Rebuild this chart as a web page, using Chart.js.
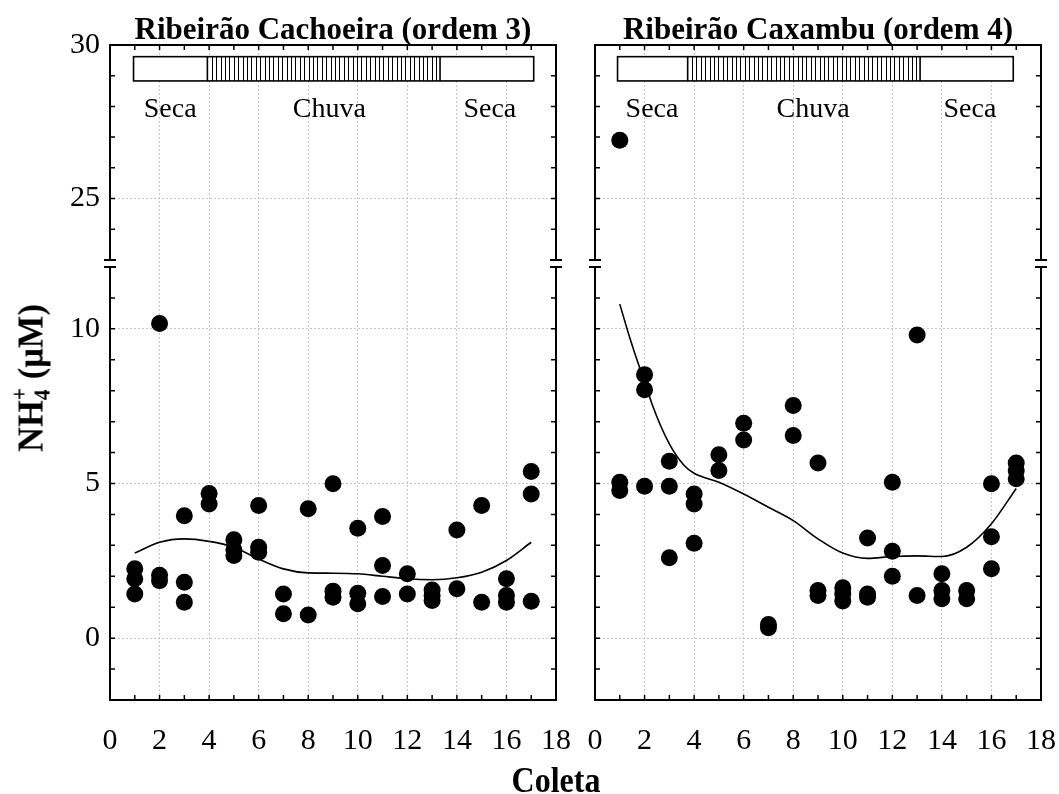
<!DOCTYPE html>
<html>
<head>
<meta charset="utf-8">
<script src="https://cdn.jsdelivr.net/npm/chart.js@4.4.1/dist/chart.umd.min.js"></script>
<style>
  body { margin: 0; background: #fff; width: 1059px; height: 794px; position: relative; overflow: hidden;
         font-family: 'Liberation Serif', 'Times New Roman', serif; color: #000; }
  .panel { position: absolute; top: 0; height: 794px; }
  #p1 { left: 0; width: 580px; }
  #p2 { left: 560px; width: 499px; }
  #ylab { position: absolute; left: 31px; top: 378px; transform: translate(-50%, -50%) rotate(-90deg) scale(1.08, 1.12);
          font-weight: bold; font-size: 32px; white-space: nowrap; }
  #ylab .ss { display: inline-block; font-size: 0.62em; line-height: 1.0; vertical-align: -0.3em; }
  #xlab { position: absolute; left: 556px; top: 780px; transform: translate(-50%, -50%) scale(1, 1.12);
          font-weight: bold; font-size: 32px; }
</style>
</head>
<body>
<div class="panel" id="p1"><canvas id="c1"></canvas></div>
<div class="panel" id="p2"><canvas id="c2"></canvas></div>
<div id="ylab">NH<span class="ss">+<br>4</span> (μM)</div>
<div id="xlab">Coleta</div>
<script>
const coleta = [1, 2, 3, 4, 5, 6, 7, 8, 9, 10, 11, 12, 13, 14, 15, 16, 17];

// NH4+ (uM) per coleta, several samples each
const cachoeiraNH4 = [
  [2.24, 1.92, 1.43],
  [10.17, 2.03, 1.86],
  [3.96, 1.81, 1.16],
  [4.68, 4.34],
  [3.18, 2.86, 2.67],
  [4.29, 2.94, 2.78],
  [1.43, 0.79],
  [4.18, 0.75],
  [4.99, 1.52, 1.32],
  [3.55, 1.45, 1.11],
  [3.93, 2.35, 1.35],
  [2.08, 1.43],
  [1.56, 1.38, 1.22],
  [3.50, 1.60],
  [4.29, 1.16],
  [1.92, 1.38, 1.16],
  [5.39, 4.66, 1.19]
];
const caxambuNH4 = [
  [26.9, 5.04, 4.77],
  [8.52, 8.03, 4.91],
  [5.72, 4.91, 2.60],
  [4.66, 4.34, 3.07],
  [5.93, 5.42],
  [6.95, 6.41],
  [0.44, 0.34],
  [7.52, 6.55],
  [5.66, 1.54, 1.38],
  [1.63, 1.43, 1.20],
  [3.24, 1.43, 1.32],
  [5.04, 2.81, 2.00],
  [9.80, 1.38],
  [2.08, 1.54, 1.27],
  [1.54, 1.27],
  [4.99, 3.28, 2.24],
  [5.66, 5.42, 5.15]
];

// smoothed trend lines
const cachoeiraTrendX = coleta;
const cachoeiraTrendY = [2.75, 3.10, 3.21, 3.13, 2.94, 2.56, 2.24, 2.11, 2.10, 2.08, 2.00, 1.92, 1.89, 1.95, 2.13, 2.51, 3.10];
const caxambuTrendX = [1, 1.4, 1.8, 2, 2.3, 3, 3.6, 4, 5, 6, 7, 8, 9, 10, 11, 12, 13, 14, 15, 16, 17];
const caxambuTrendY = [10.80, 9.72, 8.75, 8.32, 7.57, 6.28, 5.58, 5.33, 5.04, 4.66, 4.23, 3.80, 3.21, 2.75, 2.58, 2.64, 2.66, 2.64, 2.94, 3.70, 4.84];

const xTicks = [0, 2, 4, 6, 8, 10, 12, 14, 16, 18];
const yTicksUpper = [25, 30];
const yTicksLower = [0, 5, 10];
const BREAK_LOW = 12;   // top of lower segment
const BREAK_HIGH = 23;  // bottom of upper segment

// season bar: [bar start, rain start, rain end, bar end] in coleta units
const seasonNames = ['Seca', 'Chuva', 'Seca'];
const cachoeiraSeasons = [0.95, 3.93, 13.32, 17.1];
const caxambuSeasons = [0.91, 3.74, 13.12, 16.88];
const cachoeiraSeasonLabelX = [2.43, 8.85, 15.33];
const caxambuSeasonLabelX = [2.30, 8.80, 15.13];

const FONT = "'Liberation Serif', 'Times New Roman', serif";
const GRID = '#c6c6c6';

const panelDecor = {
  id: 'panelDecor',
  afterDraw(chart, args, opts) {
    const { ctx, chartArea: a } = chart;
    const { x, yU, yL } = chart.scales;
    const breakTop = yU.getPixelForValue(BREAK_HIGH);
    const breakBot = yL.getPixelForValue(BREAK_LOW);
    ctx.save();
    ctx.strokeStyle = '#000';

    // season bar
    const [s0, r0, r1, s1] = opts.seasons;
    const bx0 = x.getPixelForValue(s0), bx1 = x.getPixelForValue(s1);
    const hx0 = x.getPixelForValue(r0), hx1 = x.getPixelForValue(r1);
    const by0 = yU.getPixelForValue(29.62), by1 = yU.getPixelForValue(28.83);
    ctx.fillStyle = '#fff';
    ctx.fillRect(bx0, by0, bx1 - bx0, by1 - by0);
    ctx.lineWidth = 1;
    ctx.beginPath();
    for (let px = hx0 + 4.4; px < hx1 - 1; px += 4.4) {
      ctx.moveTo(Math.round(px) + 0.5, by0);
      ctx.lineTo(Math.round(px) + 0.5, by1);
    }
    ctx.stroke();
    ctx.lineWidth = 1.6;
    ctx.strokeRect(bx0, by0, bx1 - bx0, by1 - by0);
    ctx.beginPath();
    ctx.moveTo(hx0, by0); ctx.lineTo(hx0, by1);
    ctx.moveTo(hx1, by0); ctx.lineTo(hx1, by1);
    ctx.stroke();

    ctx.fillStyle = '#000';
    ctx.font = '28px ' + FONT;
    ctx.textAlign = 'center';
    ctx.textBaseline = 'middle';
    seasonNames.forEach((n, i) => {
      ctx.fillText(n, x.getPixelForValue(opts.labelX[i]), yU.getPixelForValue(27.9));
    });

    // inward minor ticks
    ctx.lineWidth = 1.5;
    ctx.beginPath();
    for (let v = Math.ceil(x.min); v <= x.max; v++) {
      const px = x.getPixelForValue(v);
      ctx.moveTo(px, a.bottom); ctx.lineTo(px, a.bottom - 5);
      ctx.moveTo(px, a.top); ctx.lineTo(px, a.top + 5);
    }
    for (let v = BREAK_HIGH + 1; v < yU.max; v++) {
      const py = yU.getPixelForValue(v);
      ctx.moveTo(a.left, py); ctx.lineTo(a.left + 5, py);
      ctx.moveTo(a.right, py); ctx.lineTo(a.right - 5, py);
    }
    for (let v = yL.min + 1; v < BREAK_LOW; v++) {
      const py = yL.getPixelForValue(v);
      ctx.moveTo(a.left, py); ctx.lineTo(a.left + 5, py);
      ctx.moveTo(a.right, py); ctx.lineTo(a.right - 5, py);
    }
    ctx.stroke();

    // frame with axis break
    ctx.lineWidth = 2;
    ctx.beginPath();
    [a.left, a.right].forEach(px => {
      ctx.moveTo(px, a.top - 1); ctx.lineTo(px, breakTop);
      ctx.moveTo(px, breakBot); ctx.lineTo(px, a.bottom + 1);
      ctx.moveTo(px - 6, breakTop); ctx.lineTo(px + 6, breakTop);
      ctx.moveTo(px - 6, breakBot); ctx.lineTo(px + 6, breakBot);
    });
    ctx.moveTo(a.left - 1, a.top); ctx.lineTo(a.right + 1, a.top);
    ctx.moveTo(a.left - 1, a.bottom); ctx.lineTo(a.right + 1, a.bottom);
    ctx.stroke();

    // panel title
    ctx.font = 'bold 31px ' + FONT;
    ctx.textAlign = 'center';
    ctx.textBaseline = 'alphabetic';
    ctx.fillText(opts.title, (a.left + a.right) / 2, 39);
    ctx.restore();
  }
};

function makePanel(id, title, values, trendX, trendY, seasons, labelX, showYLabels, yWidth, padRight) {
  const lower = [], upper = [];
  coleta.forEach((c, i) => values[i].forEach(v => (v > BREAK_LOW ? upper : lower).push({ x: c, y: v })));
  const trend = trendX.map((t, i) => ({ x: t, y: trendY[i] }));
  const tickFont = { family: FONT, size: 30 };

  return new Chart(document.getElementById(id), {
    type: 'scatter',
    data: {
      datasets: [
        { data: trend, yAxisID: 'yL', showLine: true, borderColor: '#000', borderWidth: 1.6,
          pointRadius: 0, cubicInterpolationMode: 'monotone', order: 2 },
        { data: lower, yAxisID: 'yL', pointRadius: 8.5, backgroundColor: '#000', borderWidth: 0, order: 1 },
        { data: upper, yAxisID: 'yU', pointRadius: 8.5, backgroundColor: '#000', borderWidth: 0, order: 1 }
      ]
    },
    options: {
      responsive: true,
      maintainAspectRatio: false,
      animation: false,
      layout: { padding: { left: 0, right: padRight, top: 45, bottom: 34 } },
      plugins: {
        legend: { display: false },
        tooltip: { enabled: false },
        panelDecor: { title, seasons, labelX }
      },
      scales: {
        x: {
          type: 'linear', position: 'bottom', min: 0, max: 18,
          afterBuildTicks: s => { s.ticks = xTicks.map(v => ({ value: v })); },
          afterFit: s => { s.height = 60; s.paddingLeft = 0; s.paddingRight = 0; },
          ticks: { font: tickFont, color: '#000', padding: 23, maxRotation: 0, autoSkip: false },
          grid: { drawTicks: false, lineWidth: 1,
                  color: c => (c.tick && c.tick.value > 0 && c.tick.value < 18) ? GRID : 'rgba(0,0,0,0)' },
          border: { display: false, dash: [2, 2] }
        },
        yL: {
          type: 'linear', position: 'left', stack: 'nh4', stackWeight: 433, weight: 1,
          min: -2, max: BREAK_LOW,
          afterBuildTicks: s => { s.ticks = yTicksLower.map(v => ({ value: v })); },
          afterFit: s => { s.width = yWidth; s.paddingTop = 0; s.paddingBottom = 0; },
          ticks: { display: showYLabels, font: tickFont, color: '#000', padding: 10 },
          grid: { drawTicks: false, lineWidth: 1, color: GRID },
          border: { display: false, dash: [2, 2] }
        },
        yU: {
          type: 'linear', position: 'left', stack: 'nh4', stackWeight: 222, weight: 2,
          min: 22.77, max: 30,
          afterBuildTicks: s => { s.ticks = yTicksUpper.map(v => ({ value: v })); },
          afterFit: s => { s.width = yWidth; s.paddingTop = 0; s.paddingBottom = 0; },
          ticks: { display: showYLabels, font: tickFont, color: '#000', padding: 10 },
          grid: { drawTicks: false, lineWidth: 1,
                  color: c => (c.tick && c.tick.value < 30) ? GRID : 'rgba(0,0,0,0)' },
          border: { display: false, dash: [2, 2] }
        }
      }
    },
    plugins: [panelDecor]
  });
}

makePanel('c1', 'Ribeirão Cachoeira (ordem 3)', cachoeiraNH4, cachoeiraTrendX, cachoeiraTrendY,
          cachoeiraSeasons, cachoeiraSeasonLabelX, true, 110, 24);
makePanel('c2', 'Ribeirão Caxambu (ordem 4)', caxambuNH4, caxambuTrendX, caxambuTrendY,
          caxambuSeasons, caxambuSeasonLabelX, false, 35, 18);
</script>
</body>
</html>
